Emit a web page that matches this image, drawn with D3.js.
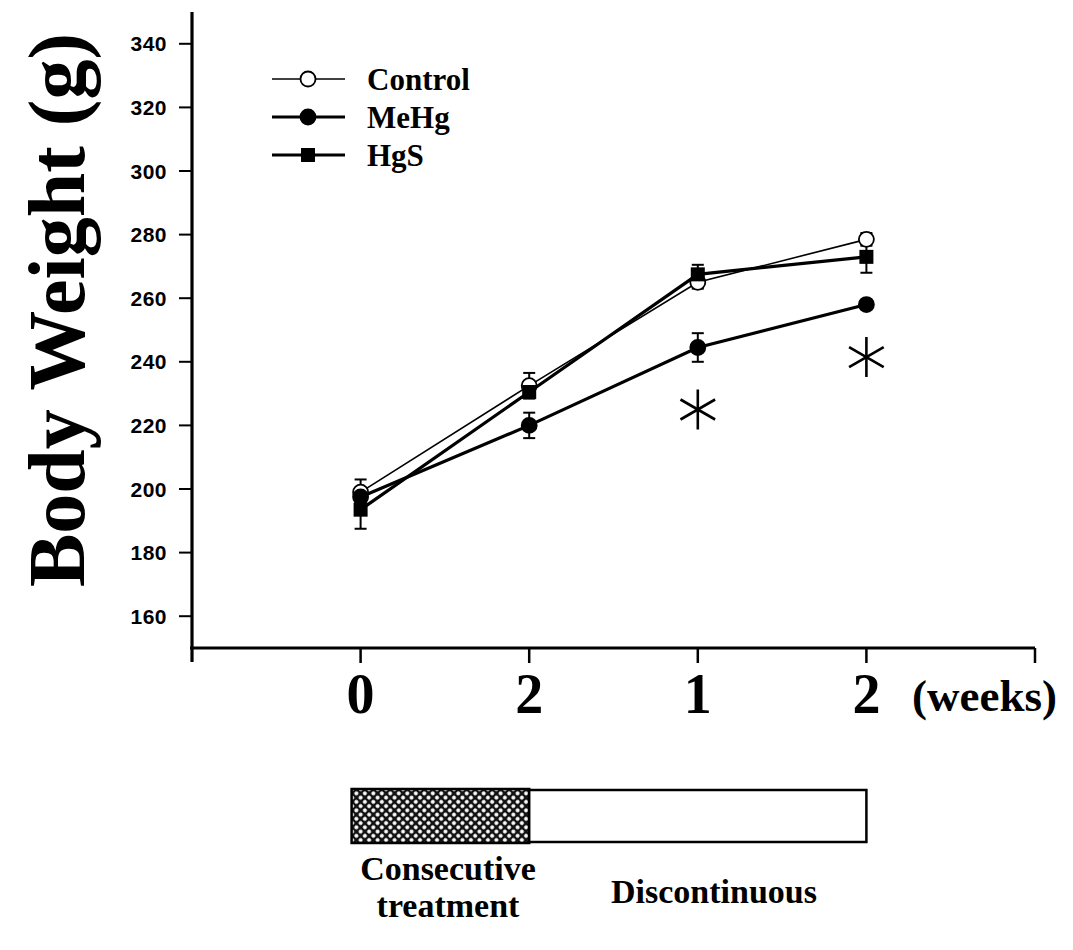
<!DOCTYPE html>
<html>
<head>
<meta charset="utf-8">
<script src="https://cdn.jsdelivr.net/npm/d3@7"></script>
<style>
  body { margin: 0; background: #fff; }
  svg { display: block; }
</style>
</head>
<body>
<svg id="chart" width="1073" height="950"></svg>
<script>
// data
var timeLabels   = ["0", "2", "1", "2"];
var controlMean  = [199, 232.5, 265, 278.5];
var controlErr   = [4, 4, 2, 2];
var mehgMean     = [197.5, 220, 244.5, 258];
var mehgErr      = [2, 4, 4.5, 1];
var hgsMean      = [193.5, 230.5, 267.5, 273];
var hgsErr       = [6, 2, 3, 5];
var yTicks       = [160, 180, 200, 220, 240, 260, 280, 300, 320, 340];
var signif       = [[2, 225], [3, 241.5]];   // index, value of asterisks

var series = [
  { name: "Control", mean: controlMean, err: controlErr, shape: "circle", fill: "#fff", width: 1.6 },
  { name: "MeHg",    mean: mehgMean,    err: mehgErr,    shape: "circle", fill: "#000", width: 3.2 },
  { name: "HgS",     mean: hgsMean,     err: hgsErr,     shape: "square", fill: "#000", width: 3.2 }
];

var svg = d3.select("#chart");
var serif = "'Liberation Serif', 'Times New Roman', serif";

var x = d3.scaleLinear().domain([-1, 4]).range([192, 1035]);
var y = d3.scaleLinear().domain([150, 350]).range([648, 12]);

// axes
svg.append("line").attr("x1", x(-1)).attr("x2", x(-1)).attr("y1", y(350)).attr("y2", y(150) + 14)
  .style("stroke", "#000").style("stroke-width", 3.2);
svg.append("line").attr("x1", x(-1) - 2).attr("x2", x(4)).attr("y1", y(150)).attr("y2", y(150))
  .style("stroke", "#000").style("stroke-width", 3);

var yAxis = svg.append("g");
yTicks.forEach(function(t){
  yAxis.append("line").attr("x1", x(-1) - 13).attr("x2", x(-1)).attr("y1", y(t)).attr("y2", y(t))
    .style("stroke", "#000").style("stroke-width", 2);
  yAxis.append("text").attr("x", x(-1) - 25).attr("y", y(t)).attr("dy", "0.36em")
    .attr("text-anchor", "end").text(t)
    .style("font-family", "'Liberation Sans', Arial, sans-serif").style("font-size", "21px")
    .style("font-weight", "bold").style("letter-spacing", "0.5px");
});

[0, 1, 2, 3, 4].forEach(function(i){
  svg.append("line").attr("x1", x(i)).attr("x2", x(i)).attr("y1", y(150)).attr("y2", y(150) + 15)
    .style("stroke", "#000").style("stroke-width", 2.5);
});

timeLabels.forEach(function(t, i){
  svg.append("text").attr("x", x(i)).attr("y", 713).attr("text-anchor", "middle").text(t)
    .style("font-family", serif).style("font-weight", "bold").style("font-size", "56px");
});
svg.append("text").attr("x", 912).attr("y", 711).text("(weeks)")
  .style("font-family", serif).style("font-weight", "bold").style("font-size", "45px");

svg.append("text")
  .attr("transform", "translate(84," + 310 + ") rotate(-90)")
  .attr("text-anchor", "middle").text("Body Weight (g)")
  .style("font-family", serif).style("font-weight", "bold").style("font-size", "80px");

// lines, error bars, markers
var line = d3.line().x(function(d, i){ return x(i); }).y(function(d){ return y(d); });

series.forEach(function(s){
  svg.append("path").datum(s.mean).attr("d", line)
    .style("fill", "none").style("stroke", "#000").style("stroke-width", s.width);
});

series.forEach(function(s){
  s.mean.forEach(function(m, i){
    var g = svg.append("g");
    g.append("line").attr("x1", x(i)).attr("x2", x(i)).attr("y1", y(m - s.err[i])).attr("y2", y(m + s.err[i]))
      .style("stroke", "#000").style("stroke-width", 2);
    [m - s.err[i], m + s.err[i]].forEach(function(v){
      g.append("line").attr("x1", x(i) - 6).attr("x2", x(i) + 6).attr("y1", y(v)).attr("y2", y(v))
        .style("stroke", "#000").style("stroke-width", 2);
    });
  });
});

function marker(g, s, cx, cy){
  if (s.shape === "square") {
    g.append("rect").attr("x", cx - 7).attr("y", cy - 7).attr("width", 14).attr("height", 14)
      .style("fill", "#000");
  } else {
    g.append("circle").attr("cx", cx).attr("cy", cy).attr("r", 7.5)
      .style("fill", s.fill).style("stroke", "#000").style("stroke-width", 1.8);
  }
}

series.forEach(function(s){
  s.mean.forEach(function(m, i){ marker(svg, s, x(i), y(m)); });
});

// asterisks
signif.forEach(function(p){
  var cx = x(p[0]), cy = y(p[1]), r = 20;
  var g = svg.append("g").attr("transform", "translate(" + cx + "," + cy + ")");
  [90, 30, -30].forEach(function(a){
    var rad = a * Math.PI / 180;
    g.append("line").attr("x1", -r * Math.cos(rad)).attr("y1", -r * Math.sin(rad))
      .attr("x2", r * Math.cos(rad)).attr("y2", r * Math.sin(rad))
      .style("stroke", "#000").style("stroke-width", 2.6);
  });
});

// legend
series.forEach(function(s, i){
  var ly = 79 + i * 38;
  var g = svg.append("g");
  g.append("line").attr("x1", 272).attr("x2", 345).attr("y1", ly).attr("y2", ly)
    .style("stroke", "#000").style("stroke-width", s.width);
  marker(g, s, 308, ly);
  g.append("text").attr("x", 367).attr("y", ly).attr("dy", "0.35em").text(s.name)
    .style("font-family", serif).style("font-weight", "bold").style("font-size", "31px");
});

// treatment bar
var defs = svg.append("defs");
var pat = defs.append("pattern").attr("id", "hatch").attr("patternUnits", "userSpaceOnUse")
  .attr("width", 6).attr("height", 6).attr("patternTransform", "rotate(45)");
pat.append("rect").attr("width", 6).attr("height", 6).style("fill", "#111");
pat.append("circle").attr("cx", 3).attr("cy", 3).attr("r", 2).style("fill", "#fff");

svg.append("rect").attr("x", x(0) - 9).attr("y", 789).attr("width", x(1) - x(0) + 9).attr("height", 54)
  .style("fill", "url(#hatch)").style("stroke", "#000").style("stroke-width", 2.5);
svg.append("rect").attr("x", x(1)).attr("y", 790).attr("width", x(3) - x(1)).attr("height", 52)
  .style("fill", "#fff").style("stroke", "#000").style("stroke-width", 2.5);

[["Consecutive", 448, 880], ["treatment", 448, 917], ["Discontinuous", 714, 903]].forEach(function(t){
  svg.append("text").attr("x", t[1]).attr("y", t[2]).attr("text-anchor", "middle").text(t[0])
    .style("font-family", serif).style("font-weight", "bold").style("font-size", "34px");
});
</script>
</body>
</html>
